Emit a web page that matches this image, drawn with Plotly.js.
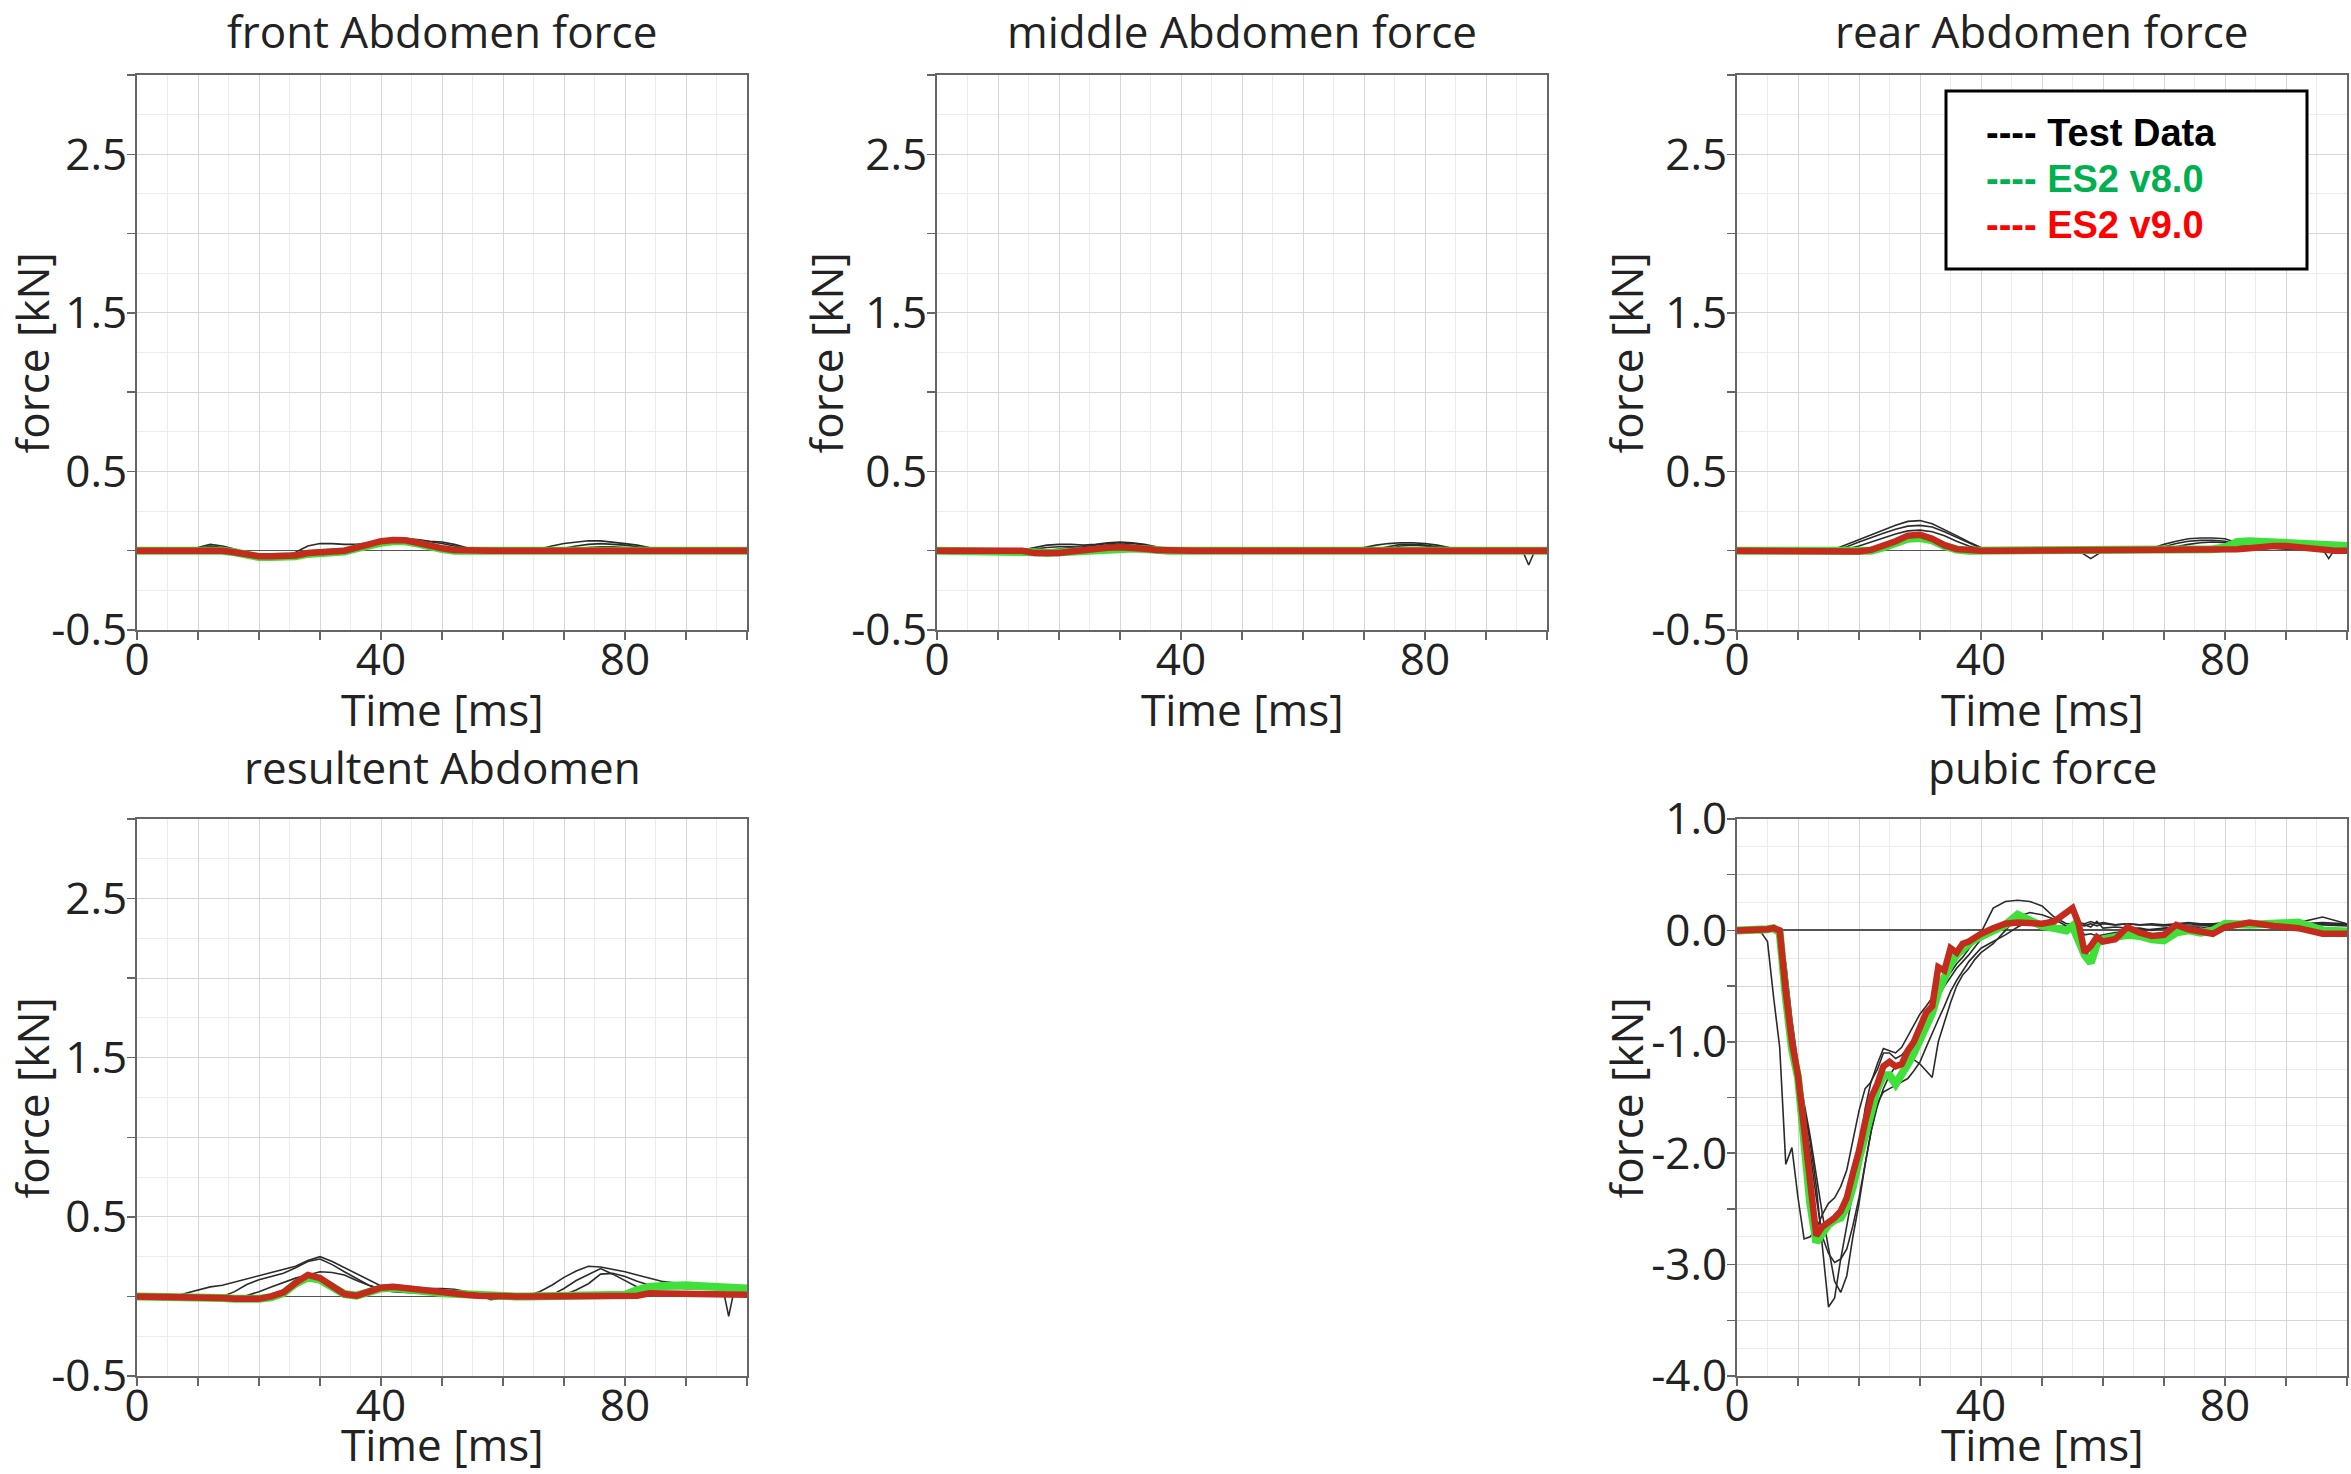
<!DOCTYPE html>
<html>
<head>
<meta charset="utf-8">
<script src="https://cdn.plot.ly/plotly-3.0.1.min.js"></script>
<style>
  html, body { margin: 0; padding: 0; background: #ffffff; }
  #chart { width: 2351px; height: 1474px; }
</style>
</head>
<body>
<div id="chart"></div>
<script>
// ---------------- DATA ----------------
// Time axis for the four abdomen plots [ms]
const tAbd = [0,2,4,6,8,10,12,14,16,18, 20,22,24,26,28,30,32,34,36,38, 40,42,44,46,48,50,52,54,56,58,
              60,62,64,66,68,70,72,74,76,78, 80,82,84,86,88,90,92,94,96, 97,98,100];

// front Abdomen force [kN]
const frontTest1 = [0,0,0,0,0.01,0.02,0.04,0.03,0.01,-0.02, -0.03,-0.03,-0.03,-0.01,0.03,0.045,0.045,0.04,0.04,0.05,
                    0.065,0.07,0.075,0.07,0.06,0.055,0.04,0.02,0.005,0, 0,0,0,0.01,0.03,0.045,0.055,0.063,0.062,0.055,
                    0.045,0.035,0.02,0.01,0,0,0,0,0, 0,0,0];
const frontTest2 = [0,0,0,0,0,0.01,0.03,0.02,0,-0.02, -0.03,-0.03,-0.03,-0.025,-0.01,0,0.005,0.01,0.02,0.04,
                    0.06,0.07,0.075,0.068,0.058,0.045,0.03,0.015,0.005,0, 0,0,0,0,0.005,0.015,0.03,0.04,0.045,0.042,
                    0.035,0.025,0.015,0.005,0,0,0,0,0, 0,0,0];
const frontTest3 = [0,0,0,0,0,0,0.01,0.01,0,-0.015, -0.025,-0.03,-0.03,-0.02,-0.005,0,0,0.005,0.015,0.035,
                    0.05,0.06,0.06,0.05,0.04,0.025,0.01,0,0,0, 0,0,0,0,0,0.005,0.01,0.02,0.025,0.025,
                    0.02,0.015,0.01,0,0,0,0,0,0, 0,0,0];
const frontV8 = [0,0,0,0,0.005,0.005,0,0,-0.01,-0.03, -0.04,-0.04,-0.04,-0.035,-0.02,-0.015,-0.01,-0.005,0.015,0.035,
                 0.05,0.06,0.06,0.045,0.025,0.01,0,0,0,0, 0,0,0,0,0.005,0.005,0.005,0.005,0.005,0.005,
                 0.005,0,0,0,0,0,0,0,0, 0,0,0];
const frontV9 = [0,0,0,0,0.005,0.005,0,0,-0.01,-0.025, -0.035,-0.035,-0.035,-0.03,-0.015,-0.01,-0.005,0,0.02,0.045,
                 0.06,0.068,0.066,0.05,0.03,0.015,0.005,0,0,0, 0,0,0,0.005,0.005,0.01,0.01,0.01,0.01,0.01,
                 0.01,0.005,0.005,0,0,0,0,0,0, 0,0,0];

// middle Abdomen force [kN]
const midTest1 = [0,0,0,0,0,0,0,0.005,0.02,0.035, 0.04,0.04,0.035,0.04,0.05,0.055,0.05,0.04,0.025,0.01,
                  0,0,0,0,0,0,0,0,0,0, 0,0,0,0,0.005,0.02,0.035,0.045,0.05,0.05,
                  0.045,0.035,0.02,0.01,0,0,0,0,0, 0,0,0];
const midTest2 = [0,0,0,0,0,0,0,0,0,0, 0.01,0.02,0.025,0.035,0.045,0.05,0.045,0.035,0.02,0.005,
                  0,0,0,0,0,0,0,0,0,0, 0,0,0,0,0,0,0.01,0.025,0.04,0.04,
                  0.035,0.025,0.015,0.005,0,0,0,0,0, -0.09,0,0];
const midTest3 = [0,0,0,0,0,0,0,0,0.01,0.02, 0.025,0.025,0.02,0.025,0.035,0.04,0.035,0.025,0.015,0.005,
                  0,0,0,0,0,0,0,0,0,0, 0,0,0,0,0,0,0,0.01,0.03,0.035,
                  0.03,0.02,0.01,0.005,0,0,0,0,0, 0,0,0];
const midV8 = [0,0,0,0,0,0,0,0,-0.01,-0.015, -0.01,-0.005,0,0.008,0.012,0.015,0.014,0.01,0.002,0,
               0,0,0,0,0,0,0,0,0,0, 0,0,0,0,0,0,0,0,0,0,
               0,0,0,0,0,0,0,0,0, 0,0,0];
const midV9 = [0,0,0,0,0,0,0,0,-0.015,-0.02, -0.015,-0.005,0.005,0.012,0.018,0.022,0.02,0.012,0.004,0,
               0,0,0,0,0,0,0,0,0,0, 0,0,0,0,0,0,0,0,0.005,0.005,
               0.005,0.005,0,0,0,0,0,0,0, 0,0,0];

// rear Abdomen force [kN]
const rearTest1 = [0,0,0,0,0,0,0,0,0.01,0.04, 0.075,0.105,0.135,0.16,0.185,0.19,0.17,0.135,0.095,0.055,
                   0.02,0,0,0,0,0,0,0,0,0, 0,0,0,0,0.015,0.04,0.06,0.075,0.08,0.08,
                   0.075,0.05,0.04,0.035,0.03,0.025,0.02,0.02,0.015, 0.015,0.015,0.01];
const rearTest2 = [0,0,0,0,0,0,0,0,0.005,0.025, 0.055,0.085,0.11,0.135,0.155,0.16,0.15,0.12,0.085,0.045,
                   0.015,0,0,0,0,0,0,0,0,-0.05, 0,0,0,0,0.005,0.025,0.045,0.06,0.065,0.065,
                   0.06,0.04,0.03,0.025,0.02,0.02,0.015,0.015,0.01, -0.05,0.01,0.01];
const rearTest3 = [0,0,0,0,0,0,0,0,0,0.01, 0.03,0.055,0.08,0.105,0.125,0.13,0.12,0.095,0.06,0.03,
                   0.01,0,0,0,0,0,0,0,0,0, 0,0,0,0,0,0.01,0.025,0.04,0.05,0.055,
                   0.05,0.035,0.025,0.02,0.015,0.01,0.01,0.01,0.005, 0.005,0.005,0.005];
const rearV8 = [0,0,0,0,0,0,0,-0.005,-0.01,-0.01, -0.005,0,0.02,0.045,0.075,0.08,0.065,0.03,0.008,0,
                0,0,0,0,0,0,0,0,0,0, 0,0,0,0,0,0,0,0,0.005,0.01,
                0.02,0.055,0.06,0.055,0.05,0.045,0.04,0.035,0.03, 0.03,0.03,0.03];
const rearV9 = [0,0,0,0,0,0,0,-0.005,-0.01,-0.01, -0.005,0.005,0.03,0.06,0.095,0.1,0.075,0.035,0.01,0,
                0,0,0,0,0,0,0,0,0,0, 0,0,0,0,0,0,0,0,0,0.005,
                0.005,0.01,0.015,0.025,0.03,0.03,0.02,0.01,0.005, 0.005,0,0];

// resultent Abdomen [kN]
const resTest1 = [0,0,0,0,0.02,0.04,0.06,0.07,0.09,0.11, 0.13,0.15,0.17,0.19,0.225,0.25,0.22,0.18,0.14,0.1,
                  0.065,0.05,0.05,0.05,0.05,0.05,0.045,0.03,0.01,-0.02, -0.01,0,0.005,0.03,0.07,0.12,0.16,0.19,0.185,0.17,
                  0.155,0.135,0.115,0.095,0.085,0.075,0.065,0.062,0.06, -0.125,0.06,0.06];
const resTest2 = [0,0,0,0,0,0,0,0,0.03,0.075, 0.105,0.125,0.145,0.18,0.22,0.235,0.2,0.155,0.11,0.07,
                  0.05,0.04,0.035,0.03,0.03,0.025,0.02,0.01,0,-0.01, 0,0,0,0,0.01,0.05,0.1,0.14,0.175,0.14,
                  0.1,0.06,0.05,0.05,0.05,0.05,0.05,0.05,0.05, 0.05,0.05,0.05];
const resTest3 = [0,0,0,0,0,0,0,0,0,0.005, 0.03,0.06,0.09,0.115,0.135,0.155,0.15,0.135,0.1,0.07,
                  0.04,0.03,0.025,0.02,0.02,0.015,0.01,0.005,0,-0.01, 0,0,0,0,0,0.01,0.04,0.08,0.14,0.145,
                  0.125,0.095,0.07,0.06,0.055,0.05,0.05,0.05,0.05, 0.05,0.05,0.05];
const resV8 = [0,0,0,0,0,0,-0.005,-0.01,-0.015,-0.02, -0.015,-0.005,0.02,0.08,0.12,0.105,0.06,0.015,0.005,0.03,
               0.05,0.055,0.05,0.04,0.03,0.02,0.015,0.01,0.005,0, 0,0,0,0,0,0,0,0,0,0,
               0.01,0.04,0.06,0.065,0.07,0.07,0.065,0.06,0.055, 0.055,0.05,0.05];
const resV9 = [0,0,0,0,0,0,-0.005,-0.01,-0.015,-0.02, -0.015,0,0.025,0.085,0.135,0.115,0.065,0.015,0.005,0.035,
               0.055,0.06,0.05,0.045,0.035,0.025,0.02,0.01,0.005,0, 0,0,0,0,0,0,0,0,0,0,
               0,0.005,0.02,0.02,0.02,0.02,0.015,0.01,0.01, 0.01,0.01,0.01];

// pubic force [kN]
const tPub = [0,2,4,5,6,7,8,9,10, 11,12,13,14,15,16,17,18,19,20, 21,22,23,24,25,26,27,28,29,30,
              31,32,33,34,35,36,37,38,39,40, 42,44,46,48,50,52,54, 55,56,57,58,59,60,
              62,64,66,68,70,72,74,76,78,80, 84,88,92,96,100];
const pubTest1 = [0,0,-0.02,-0.1,-0.6,-1.05,-2.1,-1.95,-2.4,
                  -2.77,-2.75,-2.68,-2.55,-2.45,-2.4,-2.3,-2.15,-1.9,-1.62,
                  -1.42,-1.36,-1.2,-1.06,-1.08,-1.1,-1.05,-0.95,-0.85,-0.75,
                  -0.68,-0.6,-0.52,-0.45,-0.38,-0.3,-0.24,-0.17,-0.1,-0.02,
                  0.2,0.26,0.27,0.26,0.22,0.12,0.06,
                  0.06,0.07,0.06,0.08,0.06,0.07,
                  0.05,0.06,0.05,0.06,0.05,0.06,0.07,0.06,0.06,0.07,
                  0.06,0.07,0.07,0.12,0.06];
const pubTest2 = [0,0,0,0,0,-0.05,-0.4,-0.9,-1.3,
                  -1.6,-1.9,-2.3,-2.85,-3.38,-3.3,-2.95,-2.65,-2.35,-2.0,
                  -1.6,-1.35,-1.25,-1.1,-1.1,-1.15,-1.12,-1.05,-0.98,-0.9,
                  -0.8,-0.7,-0.6,-0.5,-0.42,-0.34,-0.28,-0.22,-0.15,-0.08,
                  0.02,0.08,0.12,0.1,0.06,0.04,0.03,
                  0.03,0.04,0.05,0.03,0.08,0.02,
                  0.03,0.02,0.02,0,0.02,0.03,0.04,0.04,0.05,0.05,
                  0.06,0.05,0.05,0.06,0.05];
const pubTest3 = [0,0,0,0,0,-0.03,-0.3,-0.8,-1.2,
                  -1.55,-1.85,-2.2,-2.55,-2.85,-3.15,-3.25,-3.1,-2.75,-2.45,
                  -2.1,-1.8,-1.58,-1.42,-1.3,-1.22,-1.2,-1.14,-1.16,-1.2,
                  -1.26,-1.32,-1.0,-0.82,-0.65,-0.5,-0.4,-0.34,-0.26,-0.2,
                  -0.12,0,0.12,0.16,0.14,0.1,0.04,
                  0.02,0.02,-0.04,-0.03,-0.05,-0.04,
                  -0.02,-0.01,0,0.01,0.02,0.03,0.03,0.02,0.04,0.05,
                  0.04,0.05,0.06,0.05,0.04];
const pubTest4 = [0,0,0,0,0,-0.02,-0.35,-0.85,-1.25,
                  -1.65,-2.0,-2.4,-2.75,-2.9,-2.98,-2.95,-2.86,-2.65,-2.4,
                  -2.1,-1.8,-1.55,-1.45,-1.42,-1.39,-1.36,-1.33,-1.26,-1.18,
                  -1.05,-0.92,-0.8,-0.68,-0.55,-0.45,-0.36,-0.28,-0.22,-0.16,
                  -0.1,-0.04,0.03,0.08,0.06,0.03,0.04,
                  0.05,0.05,0.04,0.06,0.04,0.06,
                  0.05,0.06,0.05,0.05,0.04,0.05,0.06,0.05,0.05,0.06,
                  0.05,0.06,0.06,0.07,0.06];
const pubV8 = [0,0,0.01,0.01,0.02,-0.02,-0.6,-1.06,-1.32,
               -1.85,-2.45,-2.8,-2.72,-2.64,-2.6,-2.58,-2.48,-2.3,-2.05,
               -1.82,-1.58,-1.42,-1.3,-1.3,-1.38,-1.3,-1.2,-1.1,-0.98,
               -0.84,-0.74,-0.55,-0.42,-0.3,-0.22,-0.16,-0.12,-0.08,-0.05,
               0,0.05,0.14,0.08,0.04,0.02,0,
               0.04,-0.08,-0.22,-0.29,-0.12,-0.08,
               -0.06,-0.04,-0.05,-0.08,-0.09,-0.02,0,-0.02,0,0.06,
               0.05,0.06,0.07,0,-0.01];
const pubV9 = [0,0,0.01,0.01,0.02,0,-0.55,-1.0,-1.3,
               -1.8,-2.35,-2.74,-2.66,-2.62,-2.58,-2.52,-2.4,-2.18,-1.98,
               -1.72,-1.5,-1.38,-1.22,-1.18,-1.22,-1.2,-1.08,-1.0,-0.86,
               -0.74,-0.68,-0.33,-0.36,-0.16,-0.2,-0.12,-0.1,-0.06,-0.03,
               0.02,0.06,0.07,0.06,0.06,0.08,0.17,
               0.2,0.06,-0.2,-0.14,-0.06,-0.1,
               -0.08,0.03,-0.02,-0.05,-0.04,0.05,0.01,-0.01,-0.03,0.03,
               0.07,0.04,0.02,-0.03,-0.03];

// Titles and tick labels
const plotTitles = ["front Abdomen force", "middle Abdomen force", "rear Abdomen force", "resultent Abdomen", "pubic force"];
const xTitle = "Time [ms]";
const yTitle = "force [kN]";
const xTickVals = [0,10,20,30,40,50,60,70,80,90,100];
const xTickText = ["0","","","","40","","","","80","",""];
const yAbdTickVals = [-0.5,0,0.5,1,1.5,2,2.5,3];
const yAbdTickText = ["-0.5","","0.5","","1.5","","2.5",""];
const yPubTickVals = [-4,-3.5,-3,-2.5,-2,-1.5,-1,-0.5,0,0.5,1];
const yPubTickText = ["-4.0","","-3.0","","-2.0","","-1.0","","0.0","","1.0"];
const legendNames = ["Test Data", "ES2 v8.0", "ES2 v9.0"];

// ---------------- LAYOUT ----------------
const W = 2351, H = 1474;
const px = x => x / W;
const py = y => 1 - y / H;
const cols = [[137, 747], [937, 1547], [1737, 2347]];
const rows = [[75, 630], [819, 1376]];
const panels = [
  {col: 0, row: 0, kind: "abd", test: [frontTest1, frontTest2, frontTest3], v8: frontV8, v9: frontV9, t: tAbd},
  {col: 1, row: 0, kind: "abd", test: [midTest1, midTest2, midTest3], v8: midV8, v9: midV9, t: tAbd},
  {col: 2, row: 0, kind: "abd", test: [rearTest1, rearTest2, rearTest3], v8: rearV8, v9: rearV9, t: tAbd},
  {col: 0, row: 1, kind: "abd", test: [resTest1, resTest2, resTest3], v8: resV8, v9: resV9, t: tAbd},
  {col: 2, row: 1, kind: "pub", test: [pubTest1, pubTest2, pubTest3, pubTest4], v8: pubV8, v9: pubV9, t: tPub}
];

const FONT = "Open Sans, Noto Sans, DejaVu Sans, sans-serif";
const TXT = "#222222";
const traces = [];
const layout = {
  width: W, height: H,
  margin: {l: 0, r: 0, t: 0, b: 0},
  paper_bgcolor: "#ffffff",
  plot_bgcolor: "#ffffff",
  showlegend: false,
  font: {family: FONT, color: TXT, size: 44},
  annotations: [],
  shapes: []
};

panels.forEach((p, i) => {
  const n = i + 1;
  const xa = "x" + (n === 1 ? "" : n), ya = "y" + (n === 1 ? "" : n);
  const xKey = "xaxis" + (n === 1 ? "" : n), yKey = "yaxis" + (n === 1 ? "" : n);
  const [x0, x1] = cols[p.col], [y0, y1] = rows[p.row];
  const common = {
    showline: true, linecolor: "#666666", linewidth: 2, mirror: true,
    showgrid: true, gridcolor: "#d6d6d6", gridwidth: 1,
    ticks: "outside", ticklen: 8, tickcolor: "#666666", tickwidth: 1.5,
    tickfont: {family: FONT, size: 44, color: TXT},
    fixedrange: true
  };
  layout[xKey] = Object.assign({}, common, {
    domain: [px(x0), px(x1)], anchor: ya, range: [0, 100],
    tickmode: "array", tickvals: xTickVals, ticktext: xTickText,
    zeroline: false, ticklabelstandoff: -18,
    minor: {dtick: 5, tick0: 0, showgrid: true, gridcolor: "#ececec", gridwidth: 1, ticks: ""}
  });
  const yCommon = {
    domain: [py(y1), py(y0)], anchor: xa, tickmode: "array",
    zeroline: true, zerolinecolor: "#555555", ticklabelstandoff: -9,
    minor: {dtick: 0.25, tick0: 0, showgrid: true, gridcolor: "#ececec", gridwidth: 1, ticks: ""}
  };
  if (p.kind === "abd") {
    layout[yKey] = Object.assign({}, common, yCommon, {
      range: [-0.5, 3.0], tickvals: yAbdTickVals, ticktext: yAbdTickText, zerolinewidth: 1.5
    });
  } else {
    layout[yKey] = Object.assign({}, common, yCommon, {
      range: [-4.0, 1.0], tickvals: yPubTickVals, ticktext: yPubTickText, zerolinewidth: 2
    });
  }

  p.test.forEach(arr => traces.push({
    type: "scatter", mode: "lines", x: p.t, y: arr, xaxis: xa, yaxis: ya,
    line: {color: "#2b2b2b", width: 1.6}, name: legendNames[0], hoverinfo: "skip"
  }));
  traces.push({
    type: "scatter", mode: "lines", x: p.t, y: p.v8, xaxis: xa, yaxis: ya,
    line: {color: "#3fe03a", width: 8}, name: legendNames[1], hoverinfo: "skip"
  });
  traces.push({
    type: "scatter", mode: "lines", x: p.t, y: p.v9, xaxis: xa, yaxis: ya,
    line: {color: "#c42b1c", width: 6.5}, name: legendNames[2], hoverinfo: "skip"
  });

  const cx = (x0 + x1) / 2, cy = (y0 + y1) / 2;
  // Subplot title
  if (p.row === 0) {
    layout.annotations.push({
      text: plotTitles[i], xref: "paper", yref: "paper",
      x: px(cx), y: 1, xanchor: "center", yanchor: "top",
      showarrow: false, borderpad: 0, font: {family: FONT, size: 44, color: TXT}
    });
  } else {
    layout.annotations.push({
      text: plotTitles[i], xref: "paper", yref: "paper",
      x: px(cx), y: py(767), xanchor: "center", yanchor: "middle",
      showarrow: false, borderpad: 0, font: {family: FONT, size: 44, color: TXT}
    });
  }
  // x title
  layout.annotations.push({
    text: xTitle, xref: "paper", yref: "paper",
    x: px(cx), y: py(Math.min(y1 + 79, 1444)), xanchor: "center", yanchor: "middle",
    showarrow: false, borderpad: 0, font: {family: FONT, size: 44, color: TXT}
  });
  // y title
  layout.annotations.push({
    text: yTitle, xref: "paper", yref: "paper", textangle: -90,
    x: px(Math.max(x0 - 112, 31)), y: py(cy), xanchor: "center", yanchor: "middle",
    showarrow: false, borderpad: 0, font: {family: FONT, size: 44, color: TXT}
  });
});

// Legend box (top right of rear Abdomen plot)
layout.shapes.push({
  type: "rect", xref: "paper", yref: "paper",
  x0: px(1946), x1: px(2307), y0: py(269), y1: py(91),
  line: {color: "#000000", width: 3}, fillcolor: "#ffffff", layer: "above"
});
const legendColors = ["#000000", "#00b050", "#ff0000"];
const legendY = [133, 179, 225];
legendNames.forEach((name, k) => {
  layout.annotations.push({
    text: "<b>---- " + name + "</b>", xref: "paper", yref: "paper",
    x: px(1984), y: py(legendY[k]), xanchor: "left", yanchor: "middle",
    showarrow: false,
    font: {family: "Liberation Sans, Arial, sans-serif", size: 38, color: legendColors[k]}
  });
});

Plotly.newPlot("chart", traces, layout, {staticPlot: true, displayModeBar: false});
</script>
</body>
</html>
